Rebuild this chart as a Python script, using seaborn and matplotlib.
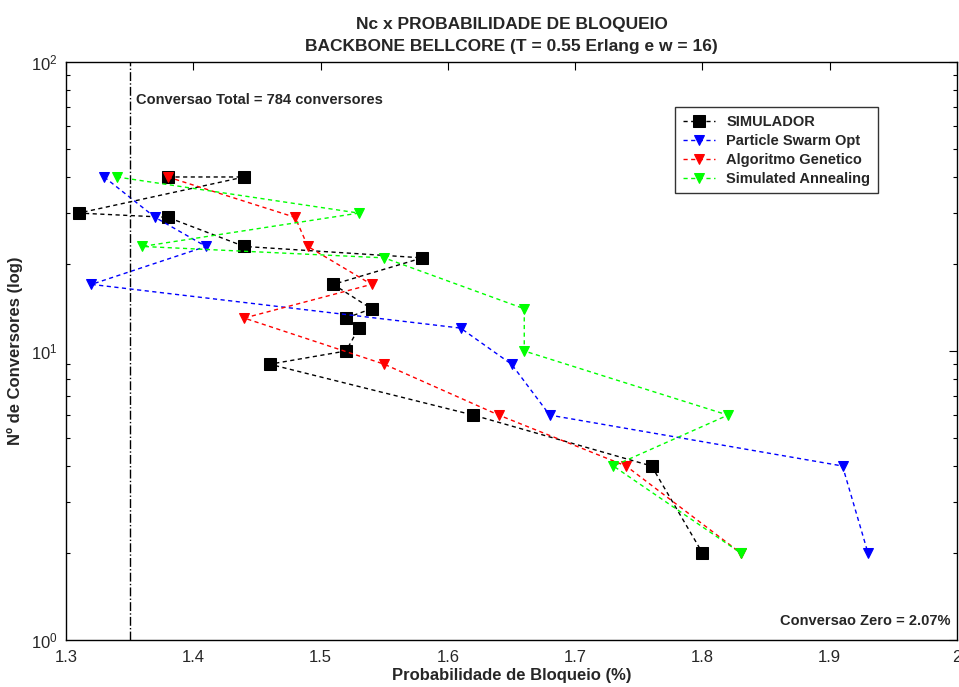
import matplotlib
matplotlib.use("Agg")
import matplotlib.pyplot as plt
import seaborn as sns
import pandas as pd

sns.set_theme(style="white")
plt.rcParams['font.family'] = ['Liberation Sans Narrow', 'Liberation Sans', 'DejaVu Sans']

# Blocking probability (%) and number of converters for each method
sim_x = [1.38, 1.44, 1.31, 1.38, 1.44, 1.58, 1.51, 1.54, 1.52, 1.53, 1.52, 1.46, 1.62, 1.76, 1.80]
sim_y = [40, 40, 30, 29, 23, 21, 17, 14, 13, 12, 10, 9, 6, 4, 2]

pso_x = [1.33, 1.37, 1.41, 1.32, 1.61, 1.65, 1.68, 1.91, 1.93]
pso_y = [40, 29, 23, 17, 12, 9, 6, 4, 2]

ga_x = [1.38, 1.48, 1.49, 1.54, 1.44, 1.55, 1.64, 1.74, 1.83]
ga_y = [40, 29, 23, 17, 13, 9, 6, 4, 2]

sa_x = [1.34, 1.53, 1.36, 1.55, 1.66, 1.66, 1.82, 1.73, 1.83]
sa_y = [40, 30, 23, 21, 14, 10, 6, 4, 2]

series_names = ["SIMULADOR", "Particle Swarm Opt", "Algoritmo Genetico", "Simulated Annealing"]
series_colors = ["#000000", "#0000ff", "#ff0000", "#00ff00"]
series_markers = ["s", "v", "v", "v"]

full_conversion_x = 1.35
x_ticks = [1.3, 1.4, 1.5, 1.6, 1.7, 1.8, 1.9, 2.0]
x_tick_labels = ["1.3", "1.4", "1.5", "1.6", "1.7", "1.8", "1.9", "2"]

fig = plt.figure(figsize=(9.59, 6.87), dpi=100)
ax = fig.add_axes([0.0688, 0.0684, 0.9292, 0.8414])

data = [(sim_x, sim_y), (pso_x, pso_y), (ga_x, ga_y), (sa_x, sa_y)]
for (xs, ys), name, col, mk in zip(data, series_names, series_colors, series_markers):
    df = pd.DataFrame({"x": xs, "y": ys})
    sns.lineplot(data=df, x="x", y="y", sort=False, ax=ax, color=col,
                 marker=mk, markersize=8 if mk == "s" else 7.5,
                 markeredgecolor=col, markerfacecolor=col,
                 linestyle=(0, (3, 2.5)), linewidth=1.0, label=name,
                 estimator=None)

ax.axvline(full_conversion_x, color="black", linestyle="-.", linewidth=1.0)

ax.set_yscale("log")
ax.set_xlim(1.3, 2.0)
ax.set_ylim(1, 100)
ax.set_xticks(x_ticks)
ax.set_xticklabels(x_tick_labels, fontsize=12)
ax.tick_params(axis="both", which="both", direction="in", top=True, right=True,
               color="black", labelsize=12)
ax.tick_params(axis="both", which="major", length=6, width=0.8)
ax.tick_params(axis="x", which="major", pad=7)
ax.tick_params(axis="y", which="major", pad=6)
ax.tick_params(axis="y", which="minor", length=3, width=0.8, left=True, right=True)
for s in ax.spines.values():
    s.set_color("black")
    s.set_linewidth(1.0)

ax.set_xlabel("Probabilidade de Bloqueio (%)", fontsize=12, fontweight="bold", labelpad=2)
ax.set_ylabel("Nº de Conversores (log)", fontsize=12, fontweight="bold", labelpad=6)
ax.set_title("Nc x PROBABILIDADE DE BLOQUEIO\nBACKBONE BELLCORE (T = 0.55 Erlang e w = 16)",
             fontsize=12.5, fontweight="bold", pad=8, linespacing=1.6)

ax.text(1.355, 74, "Conversao Total = 784 conversores", fontsize=10.5,
        fontweight="bold", va="center", ha="left")
ax.text(1.995, 1.16, "Conversao Zero = 2.07%", fontsize=10.5,
        fontweight="bold", va="center", ha="right")

leg = ax.legend(loc="upper right", bbox_to_anchor=(0.919, 0.934), fontsize=10.5,
                frameon=True, fancybox=False, edgecolor="black", handlelength=2.2,
                borderpad=0.5, labelspacing=0.35)
leg.get_frame().set_linewidth(1.0)
for t in leg.get_texts():
    t.set_fontweight("bold")

ax.grid(False)
fig.savefig("out.png", dpi=100)
